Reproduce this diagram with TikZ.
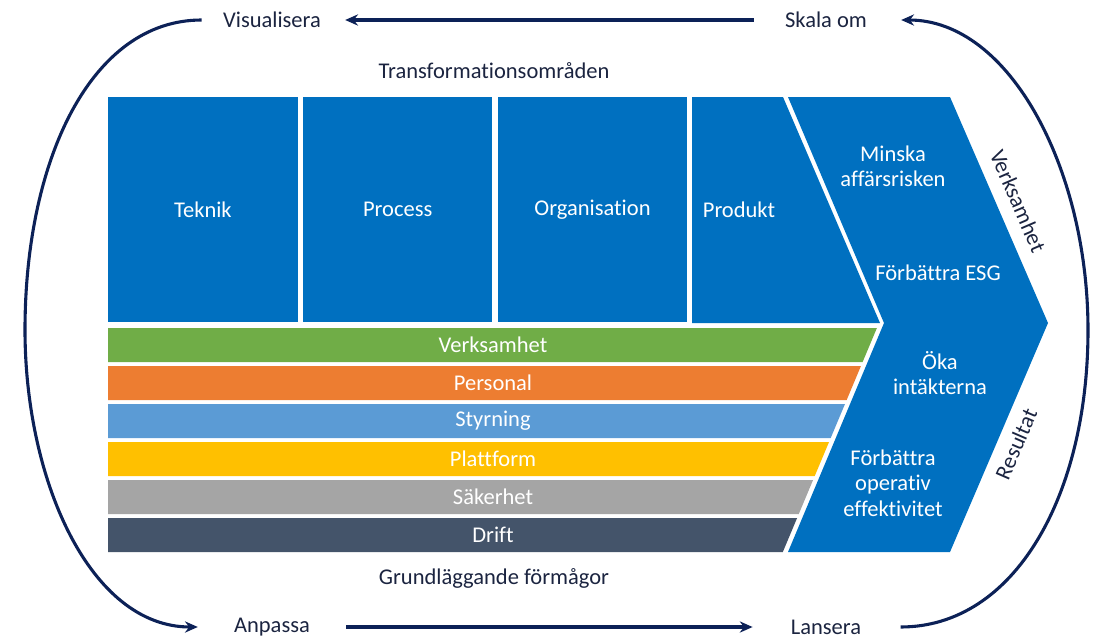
\documentclass[tikz,border=0pt]{standalone}
\usepackage{fontspec}
\setmainfont{Carlito}[Ligatures=NoCommon]
\usetikzlibrary{calc, positioning, arrows.meta}

\definecolor{areablue}{HTML}{0070C0}
\definecolor{barGreen}{HTML}{70AD47}
\definecolor{barOrange}{HTML}{ED7D31}
\definecolor{barSky}{HTML}{5B9BD5}
\definecolor{barYellow}{HTML}{FFC000}
\definecolor{barGray}{HTML}{A5A5A5}
\definecolor{barSlate}{HTML}{44546A}
\definecolor{loopnavy}{HTML}{0C2157}
\definecolor{labelink}{HTML}{1B2440}

\begin{document}
\begin{tikzpicture}[x=0.025cm, y=-0.025cm, font=\fontsize{16}{18}\selectfont]
		\tikzstyle{data} = [text=white, align=center]
		\tikzstyle{column} = [data, fill=areablue, minimum width=4.73cm, minimum height=5.625cm, inner sep=0]
		\tikzstyle{phase} = [text=labelink, inner sep=0]
		\tikzstyle{cycle} = [draw=loopnavy, line width=2.2pt, -{Stealth[length=3.2mm, width=2.8mm]}]

		\useasboundingbox (0,0) rectangle (1094,638);

		% transformation areas
		\node[column, anchor=north west] (teknik) at (108,97) {Teknik};
		\node[column, right=0.125cm of teknik] (process) {Process};
		\node[column, right=0.125cm of process] (organisation) {Organisation};
		\fill[areablue] (692,97) -- (783,97) -- (880,323) -- (692,323) -- cycle;
		\node[data] (produkt) at (739,210) {Produkt};

		% foundational capabilities
		\foreach \lbl/\col [count=\i from 0] in {Verksamhet/barGreen, Personal/barOrange, Styrning/barSky, Plattform/barYellow, Säkerhet/barGray, Drift/barSlate} {
			\pgfmathsetmacro{\ya}{328+38*\i}
			\pgfmathsetmacro{\yb}{\ya+34}
			\fill[\col] (108,\ya) -- ({879-0.42*(\ya-323)},\ya) -- ({879-0.42*(\yb-323)},\yb) -- (108,\yb) -- cycle;
			\node[data] (bar\i) at (493,{\ya+17}) {\lbl};
		}

		% outcome chevron
		\fill[areablue] (788,97) -- (950,97) -- (1048,323) -- (950,552) -- (788,552) -- (884,323) -- cycle;
		\node[data] (risk) at (893,166) {Minska\\affärsrisken};
		\node[data] (esg) at (938,273) {Förbättra ESG};
		\node[data] (revenue) at (940,373) {Öka\\intäkterna};
		\node[data] (opex) at (893,483) {Förbättra\\operativ\\effektivitet};
		\node[phase, rotate=-66.6] (business) at (1018,201) {Verksamhet};
		\node[phase, rotate=66.6] (result) at (1016,444) {Resultat};

		\node[phase] (areas) at (494,71) {Transformationsområden};
		\node[phase] (basics) at (494,578) {Grundläggande förmågor};

		% cycle round the outside
		\node[phase] (vis) at (272,20) {Visualisera};
		\node[phase] (skala) at (826,20) {Skala om};
		\node[phase] (anpassa) at (272,627) {Anpassa};
		\node[phase] (lansera) at (826,627) {Lansera};

		\draw[cycle, shorten <=0.78cm, shorten >=0.6cm] (skala.west) -- (vis.east);
		\draw[cycle, shorten <=0.9cm, shorten >=0.95cm] (anpassa.east) -- (lansera.west);
		\draw[cycle, shorten <=0.53cm, shorten >=0.9cm] (vis.west)
			.. controls (91,20) and (25,160) .. (25,330)
			.. controls (25,480) and (90,627) .. (anpassa.west);
		\draw[cycle, shorten <=0.98cm, shorten >=0.85cm] (lansera.east)
			.. controls (1015,627) and (1088,495) .. (1088,330)
			.. controls (1088,170) and (1010,20) .. (skala.east);
	\end{tikzpicture}
\end{document}
